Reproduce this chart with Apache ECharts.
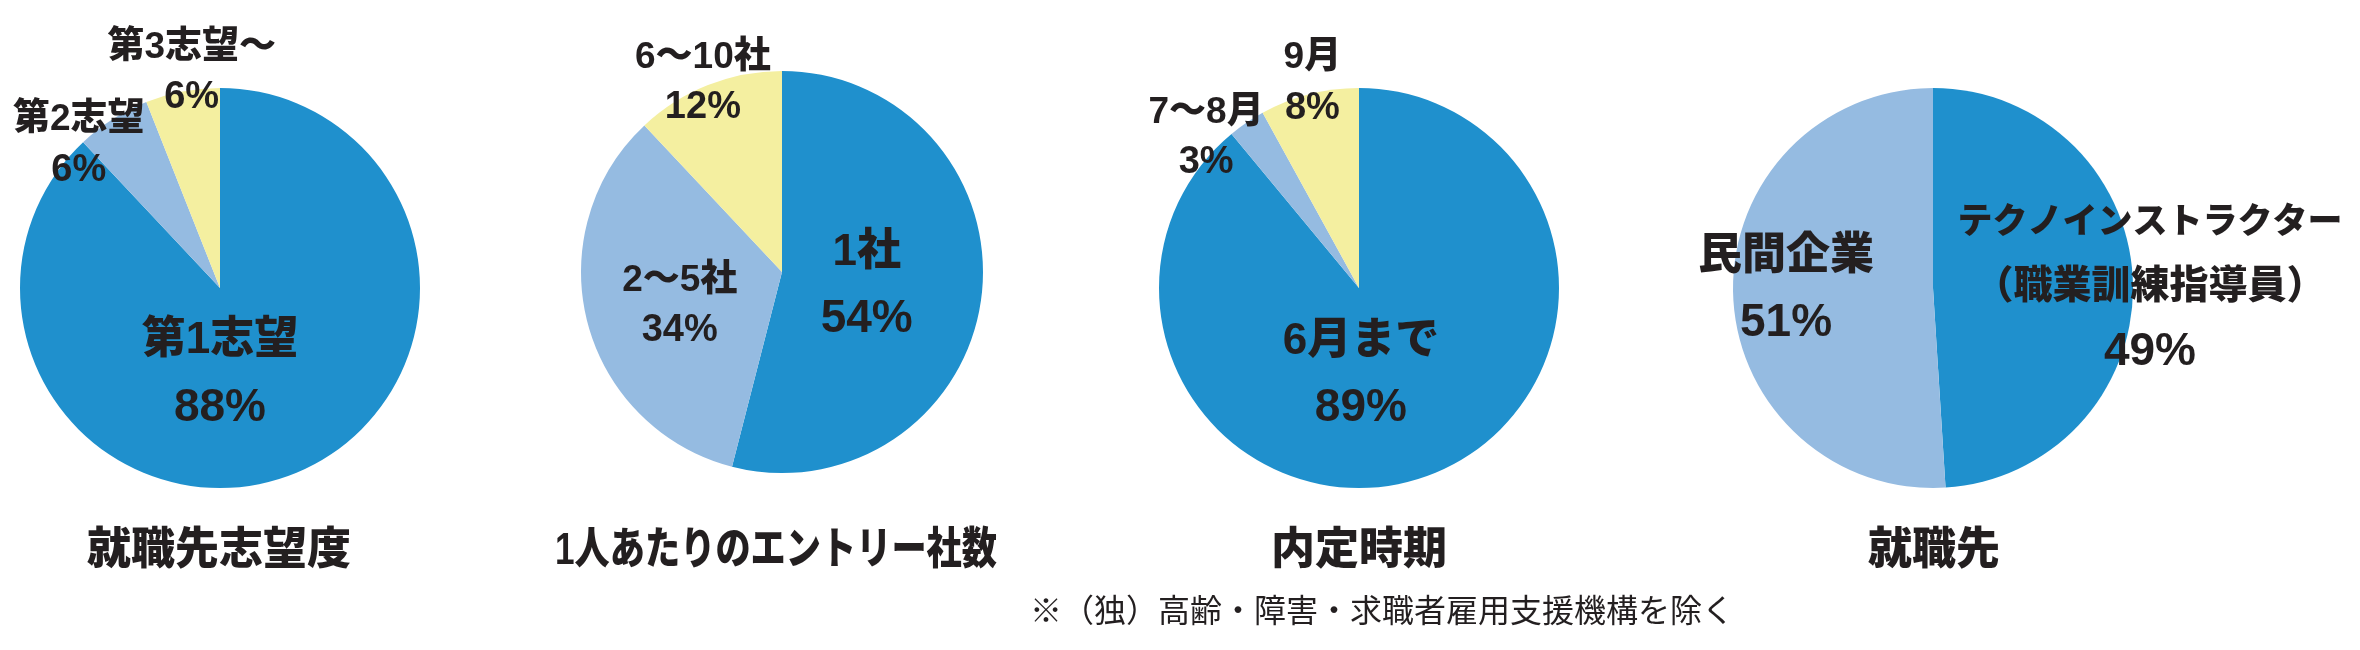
<!DOCTYPE html>
<html>
<head>
<meta charset="utf-8">
<script src="https://cdn.jsdelivr.net/npm/echarts@6/dist/echarts.min.js"></script>
<style>
html,body{margin:0;padding:0;background:#fff;}
#main{width:2360px;height:650px;}
</style>
</head>
<body>
<div id="main"></div>
<script>
// ---- data ----
const chartTitles = ['就職先志望度', '1人あたりのエントリー社数', '内定時期', '就職先'];
const footnote = '※（独）高齢・障害・求職者雇用支援機構を除く';

const names1 = ['第1志望', '第2志望', '第3志望～'];
const values1 = [88, 6, 6];

const names2 = ['1社', '2～5社', '6～10社'];
const values2 = [54, 34, 12];

const names3 = ['6月まで', '7～8月', '9月'];
const values3 = [89, 3, 8];

const names4 = ['テクノインストラクター\n（職業訓練指導員）', '民間企業'];
const values4 = [49, 51];

// ---- styles / layout ----
const colors = ['#1f90cd', '#95bbe1', '#f4efa0'];
const textColor = '#231f20';
const fontFam = '"Liberation Sans", "Noto Sans CJK JP", sans-serif';
const heavy = '900';

const centers = [[220, 288], [782, 272], [1359, 288], [1933, 288]];
const radii = [200, 201, 200, 200];
const titleX = [219, 776, 1359, 1934];
const titleScaleX = [1, 0.8, 1, 1];

// label style key per item: L = large, S = small, K = katakana long
const labelKinds = [['L', 'S', 'S'], ['L', 'S', 'S'], ['L', 'S', 'S'], ['K', 'L']];
// label nudges relative to the slice's inside-label anchor
const labelShift = [
  [[-38, -9], [-86, -56], [-9, -114]],
  [[-18, 1], [-2, 8], [-41, -93]],
  [[-33, -10], [-95, -65], [-21, -105]],
  [[114, 4], [-44, -1]]
];

const rich = {
  nL: {fontSize: 44, fontWeight: heavy, fontFamily: fontFam, color: textColor, lineHeight: 67},
  pL: {fontSize: 46, fontWeight: 'bold', fontFamily: fontFam, color: textColor, lineHeight: 67},
  nS: {fontSize: 37, fontWeight: heavy, fontFamily: fontFam, color: textColor, lineHeight: 50},
  pS: {fontSize: 38, fontWeight: 'bold', fontFamily: fontFam, color: textColor, lineHeight: 50},
  nK: {fontSize: 35, fontWeight: heavy, fontFamily: fontFam, color: textColor, lineHeight: 64},
  nK2: {fontSize: 39, fontWeight: heavy, fontFamily: fontFam, color: textColor, lineHeight: 64},
  pK: {fontSize: 46, fontWeight: 'bold', fontFamily: fontFam, color: textColor, lineHeight: 67}
};

function makeSeries(idx, names, values) {
  return {
    type: 'pie',
    center: centers[idx],
    radius: radii[idx],
    startAngle: 90,
    clockwise: true,
    avoidLabelOverlap: false,
    silent: true,
    animation: false,
    itemStyle: {borderWidth: 0},
    labelLine: {show: false},
    label: {
      show: true,
      position: 'inside',
      color: textColor,
      formatter: function (p) {
        const kind = labelKinds[idx][p.dataIndex];
        const lines = p.name.split('\n');
        if (kind === 'K') {
          return '{nK|' + lines[0] + '}\n{nK2|' + lines[1] + '}\n{pK|' + p.value + '%}';
        }
        return '{n' + kind + '|' + lines[0] + '}\n{p' + kind + '|' + p.value + '%}';
      },
      rich: rich
    },
    labelLayout: function (params) {
      const s = labelShift[idx][params.dataIndex];
      return {dx: s[0], dy: s[1]};
    },
    data: names.map(function (n, i) {
      return {name: n, value: values[i], itemStyle: {color: colors[i]}};
    })
  };
}

const chart = echarts.init(document.getElementById('main'), null, {renderer: 'canvas'});

const graphics = chartTitles.map(function (t, i) {
  return {
    type: 'text',
    x: titleX[i],
    y: 552,
    scaleX: titleScaleX[i],
    silent: true,
    style: {
      text: t,
      fontSize: 44,
      fontWeight: heavy,
      fontFamily: fontFam,
      fill: textColor,
      align: 'center',
      verticalAlign: 'middle'
    }
  };
});
graphics.push({
  type: 'text',
  x: 1382,
  y: 610,
  silent: true,
  style: {
    text: footnote,
    fontSize: 32,
    fontWeight: 'normal',
    fontFamily: '"Noto Sans CJK JP", sans-serif',
    fill: textColor,
    align: 'center',
    verticalAlign: 'middle'
  }
});

chart.setOption({
  backgroundColor: '#ffffff',
  animation: false,
  graphic: graphics,
  series: [
    makeSeries(0, names1, values1),
    makeSeries(1, names2, values2),
    makeSeries(2, names3, values3),
    makeSeries(3, names4, values4)
  ]
});
</script>
</body>
</html>
